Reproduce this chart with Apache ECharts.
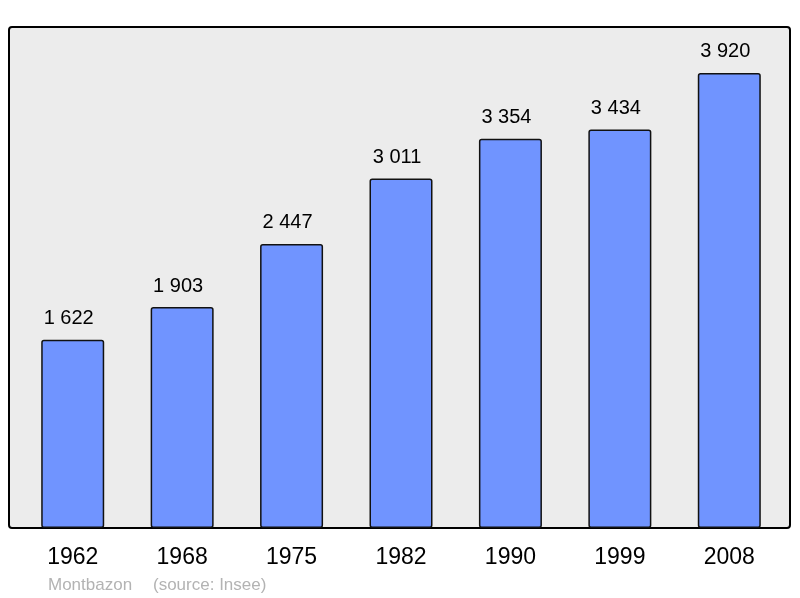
<!DOCTYPE html>
<html>
<head>
<meta charset="utf-8">
<script src="https://cdn.jsdelivr.net/npm/echarts@6/dist/echarts.min.js"></script>
<style>
  html, body { margin: 0; padding: 0; background: #fff; }
  #main { width: 800px; height: 598px; }
</style>
</head>
<body>
<div id="main"></div>
<script>
// population par recensement
var years = ['1962', '1968', '1975', '1982', '1990', '1999', '2008'];
var population = [1622, 1903, 2447, 3011, 3354, 3434, 3920];
var town = 'Montbazon';
var source = '(source: Insee)';

function fmt(v) {
  return String(v).replace(/\B(?=(\d{3})+(?!\d))/g, ' ');
}

var chart = echarts.init(document.getElementById('main'));
chart.setOption({
  animation: false,
  backgroundColor: '#ffffff',
  graphic: [
    {
      type: 'rect',
      z: -10,
      shape: { x: 9, y: 27, width: 781, height: 501, r: 3 },
      style: { fill: '#ececec', stroke: '#000000', lineWidth: 2 }
    },
    {
      type: 'text', left: 48, top: 577,
      style: { text: town, fill: '#b3b3b3', font: '17px "Liberation Sans", Arial, sans-serif' }
    },
    {
      type: 'text', left: 153, top: 577,
      style: { text: source, fill: '#b3b3b3', font: '17px "Liberation Sans", Arial, sans-serif' }
    }
  ],
  grid: { left: 18, top: 27, width: 766, height: 501 },
  xAxis: {
    type: 'category',
    data: years,
    axisLine: { show: false },
    axisTick: { show: false },
    axisLabel: {
      color: '#000',
      fontSize: 23,
      fontFamily: '"Liberation Sans", Arial, sans-serif',
      margin: 18
    }
  },
  yAxis: {
    type: 'value',
    min: 0,
    max: 4316,
    show: false,
    splitLine: { show: false }
  },
  series: [{
    type: 'bar',
    data: population,
    barWidth: 63,
    itemStyle: {
      color: '#7094ff',
      borderColor: '#111111',
      borderWidth: 1.5,
      borderRadius: 2
    },
    label: {
      show: true,
      position: 'top',
      distance: 11,
      offset: [-4, 0],
      color: '#000',
      fontSize: 20,
      fontFamily: '"Liberation Sans", Arial, sans-serif',
      formatter: function (p) { return fmt(p.value); }
    }
  }]
});
</script>
</body>
</html>
